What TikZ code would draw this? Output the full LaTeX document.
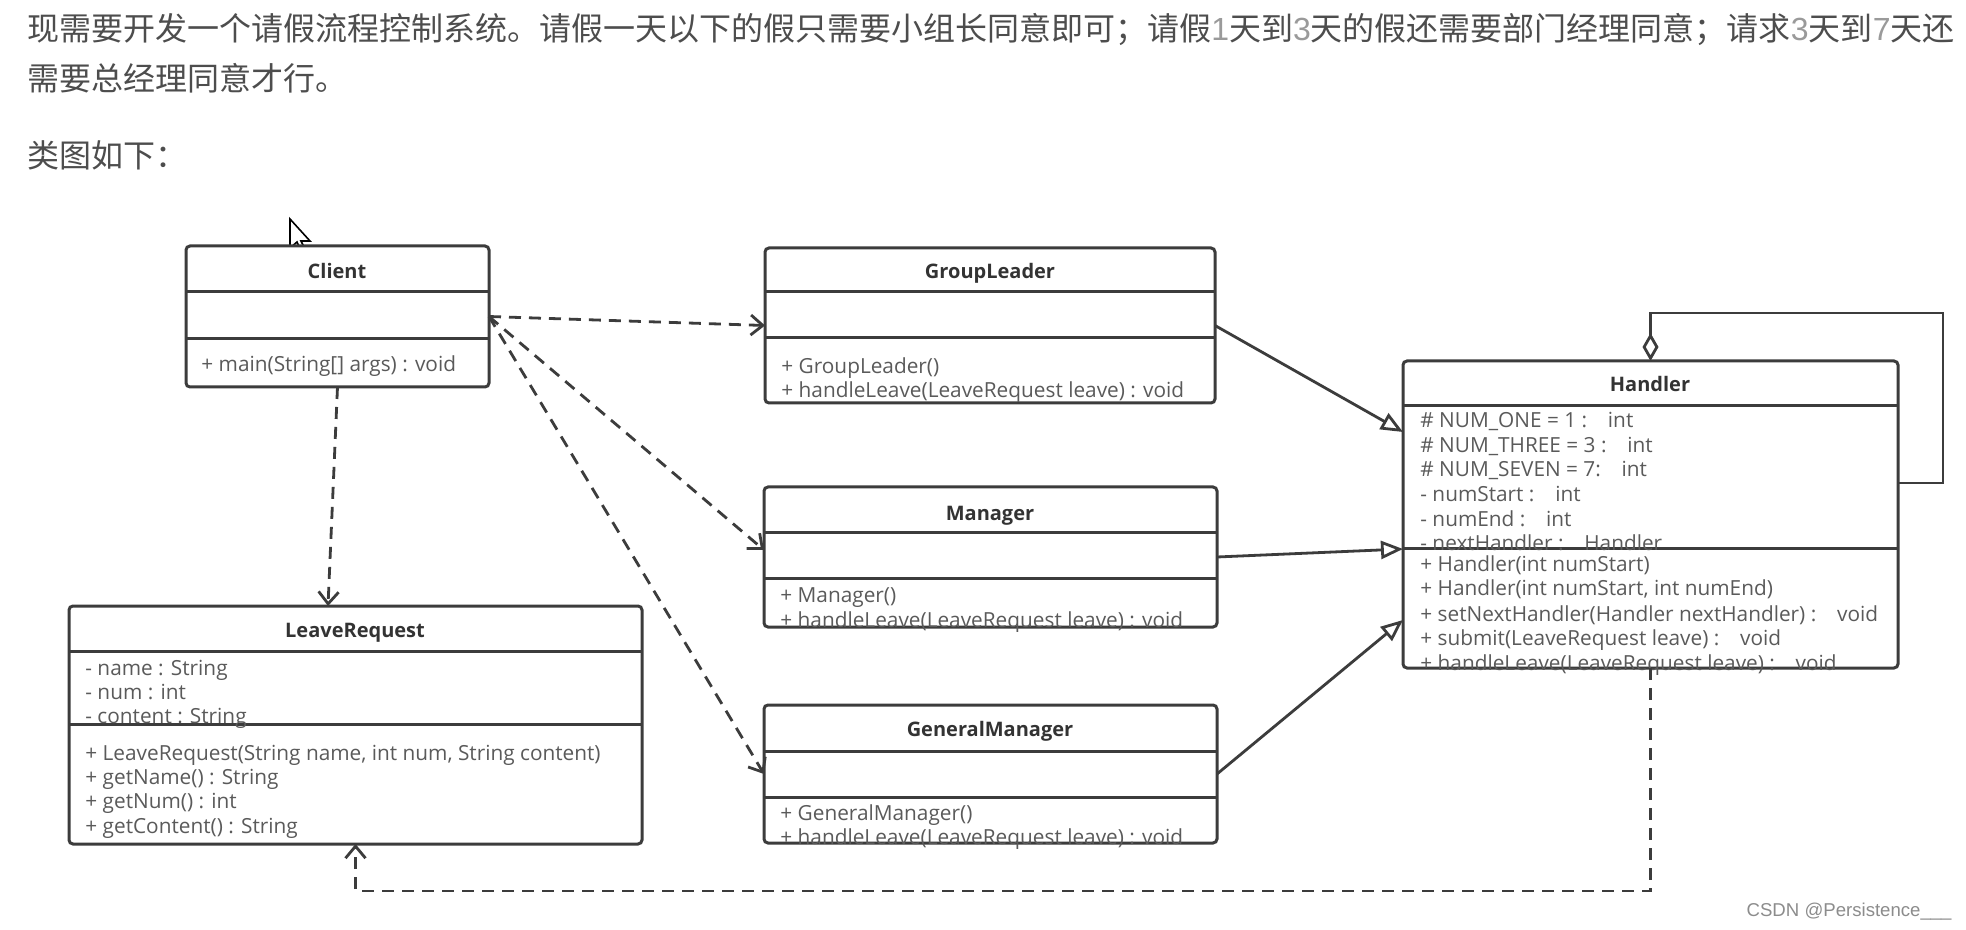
\documentclass[tikz,border=0pt]{standalone}
\usepackage{fontspec}
\setmainfont{Open Sans}
\newfontfamily\cjk{Noto Sans CJK SC}
\newfontfamily\digitfont{Liberation Sans}
\usetikzlibrary{arrows.meta}
\definecolor{linecol}{HTML}{3C3C3C}
\definecolor{textcol}{HTML}{5A5A5A}
\definecolor{titlecol}{HTML}{333333}
\definecolor{introcol}{HTML}{4D4D4D}
\definecolor{numcol}{HTML}{9A9A9A}
\definecolor{markcol}{HTML}{8C8C8C}
\newcommand{\dnum}[1]{{\digitfont\color{numcol}#1}}
\begin{document}
\begin{tikzpicture}[x={(0.5pt,0pt)}, y={(0pt,-0.5pt)},
    classbox/.style={draw=linecol, line width=1.5pt, rounded corners=2pt, fill=white, anchor=north west, inner sep=0pt, outer sep=0pt},
    divider/.style={draw=linecol, line width=1.5pt},
    classname/.style={font=\fontsize{10}{12}\selectfont\bfseries, text=titlecol, inner sep=0pt},
    member/.style={font=\fontsize{10.4}{12}\selectfont, text=textcol, anchor=west, inner sep=0pt, text height=10pt, text depth=2pt},
    dep/.style={draw=linecol, line width=1.4pt, dash pattern=on 6pt off 4pt, -{Straight Barb[length=6pt,width=10pt]}},
    gen/.style={draw=linecol, line width=1.4pt, -{Triangle[open,length=11pt,width=9pt,fill=white]}},
    agg/.style={draw=linecol, line width=1.4pt, -{Diamond[open,length=14pt,width=8pt,fill=white]}},
    intro/.style={font=\cjk\fontsize{16}{20}\selectfont, text=introcol, anchor=west, inner sep=0pt}]
    \fill[white] (0,0) rectangle (1966,930);
    \useasboundingbox (0,0) rectangle (1966,930);

    \node[intro] (line1) at (27,29) {现需要开发一个请假流程控制系统。请假一天以下的假只需要小组长同意即可；请假\dnum{1}天到\dnum{3}天的假还需要部门经理同意；请求\dnum{3}天到\dnum{7}天还};
    \node[intro] (line2) at (27,78) {需要总经理同意才行。};
    \node[intro] (line3) at (27,155) {类图如下：};

    \draw[fill=white, line width=0.8pt] (290,219) -- (290,248) -- (297,242) -- (302,253) -- (306,251) -- (301,241) -- (310,241) -- cycle;

    \node[classbox, minimum width=151.5pt, minimum height=70.5pt] (client) at (186,246) {};
    \draw[divider] (186,292) -- (489,292);
    \draw[divider] (186,339) -- (489,339);
    \node[classname] (clientname) at (337,271) {Client};
    \node[member] (clientm1) at (201,364) {+ main(String[] args) : void};

    \node[classbox, minimum width=225pt, minimum height=77.5pt] (groupleader) at (765,248) {};
    \draw[divider] (765,292) -- (1215,292);
    \draw[divider] (765,338) -- (1215,338);
    \node[classname] (groupleadername) at (990,273) {GroupLeader};
    \node[member] (groupleaderm1) at (781,366) {+ GroupLeader()};
    \node[member] (groupleaderm2) at (781,390) {+ handleLeave(LeaveRequest leave) : void};

    \node[classbox, minimum width=226.5pt, minimum height=70pt] (manager) at (764,487) {};
    \draw[divider] (764,533) -- (1217,533);
    \draw[divider] (764,579) -- (1217,579);
    \node[classname] (managername) at (990,516) {Manager};
    \node[member] (managerm1) at (780,595) {+ Manager()};
    \node[member] (managerm2) at (780,619) {+ handleLeave(LeaveRequest leave) : void};

    \node[classbox, minimum width=226.5pt, minimum height=69pt] (generalmanager) at (764,705) {};
    \draw[divider] (764,751) -- (1217,751);
    \draw[divider] (764,797) -- (1217,797);
    \node[classname] (generalmanagername) at (990,731) {GeneralManager};
    \node[member] (generalmanagerm1) at (780,812) {+ GeneralManager()};
    \node[member] (generalmanagerm2) at (780,836) {+ handleLeave(LeaveRequest leave) : void};

    \node[classbox, minimum width=286.5pt, minimum height=119pt] (leave) at (69,606) {};
    \draw[divider] (69,651) -- (642,651);
    \draw[divider] (69,724) -- (642,724);
    \node[classname] (leavename) at (355,633) {LeaveRequest};
    \node[member] (leavea1) at (85,667) {- name : String};
    \node[member] (leavea2) at (85,691) {- num : int};
    \node[member] (leavea3) at (85,715) {- content : String};
    \node[member] (leavem1) at (85,752) {+ LeaveRequest(String name, int num, String content)};
    \node[member] (leavem2) at (85,776) {+ getName() : String};
    \node[member] (leavem3) at (85,800) {+ getNum() : int};
    \node[member] (leavem4) at (85,825) {+ getContent() : String};

    \node[classbox, minimum width=247.5pt, minimum height=153.5pt] (handler) at (1403,361) {};
    \draw[divider] (1403,406) -- (1898,406);
    \draw[divider] (1403,549) -- (1898,549);
    \node[classname] (handlername) at (1650,384) {Handler};
    \node[member] (handlera1) at (1420,420) {\# NUM\_ONE = 1 :\quad int};
    \node[member] (handlera2) at (1420,445) {\# NUM\_THREE = 3 :\quad int};
    \node[member] (handlera3) at (1420,469) {\# NUM\_SEVEN = 7:\quad int};
    \node[member] (handlera4) at (1420,494) {- numStart :\quad int};
    \node[member] (handlera5) at (1420,519) {- numEnd :\quad int};
    \node[member] (handlera6) at (1420,543) {- nextHandler :\quad Handler};
    \node[member] (handlerm1) at (1420,564) {+ Handler(int numStart)};
    \node[member] (handlerm2) at (1420,588) {+ Handler(int numStart, int numEnd)};
    \node[member] (handlerm3) at (1420,613) {+ setNextHandler(Handler nextHandler) :\quad void};
    \node[member] (handlerm4) at (1420,638) {+ submit(LeaveRequest leave) :\quad void};
    \node[member] (handlerm5) at (1420,662) {+ handleLeave(LeaveRequest leave) :\quad void};

    \draw[dep] (client.east) -- (groupleader.west);
    \draw[dep] (client.east) -- ([yshift=3.5pt]manager.west);
    \draw[dep] (client.east) -- (generalmanager.west);
    \draw[dep] (client.south) -- ([xshift=-13.75pt]leave.north);
    \draw[dep] (handler.south) -- ++(0,223) -| (leave.south);

    \draw[gen] (groupleader.east) -- ([yshift=41.25pt]handler.west);
    \draw[gen] (manager.east) -- ([yshift=-17.25pt]handler.west);
    \draw[gen] (generalmanager.east) -- ([yshift=-52.75pt]handler.west);
    \draw[agg] ([yshift=15.75pt]handler.east) -- ++(45,0) -- ++(0,-170) -| (handler.north);

    \node[font=\digitfont\fontsize{9.3}{11}\selectfont, text=markcol, anchor=east, inner sep=0pt] (mark) at (1952,912) {CSDN @Persistence\_\_\_};
\end{tikzpicture}
\end{document}
